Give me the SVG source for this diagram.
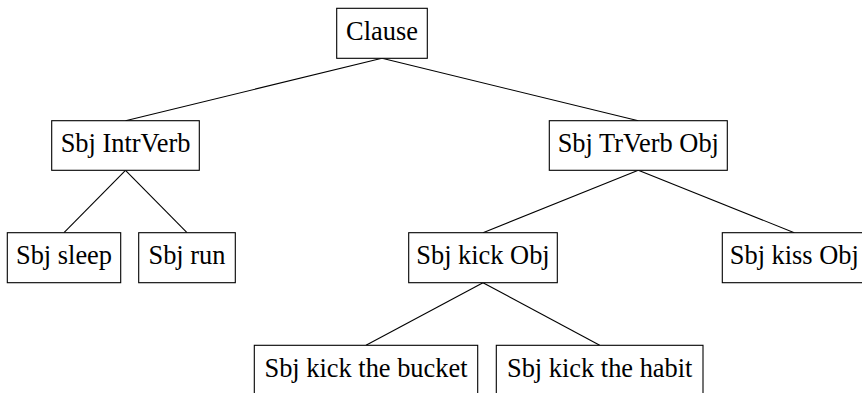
<svg xmlns="http://www.w3.org/2000/svg" width="862" height="393" viewBox="0 0 862 393">
<style>
rect.n{fill:#fff;stroke:#000;stroke-width:1.1}
text{font-family:"Liberation Serif","DejaVu Serif",serif;font-size:26.4px;fill:#000;text-anchor:middle}
#edges line{stroke:#000;stroke-width:1.1}
</style>
<rect width="862" height="393" fill="#fff"/>
<g id="edges">
<line x1="382" y1="58.3" x2="125.5" y2="120.7"/>
<line x1="382" y1="58.3" x2="638.3" y2="120.7"/>
<line x1="125.5" y1="170.3" x2="64" y2="232.7"/>
<line x1="125.5" y1="170.3" x2="187" y2="232.7"/>
<line x1="638.3" y1="170.3" x2="483" y2="232.7"/>
<line x1="638.3" y1="170.3" x2="794.3" y2="232.7"/>
<line x1="483" y1="282.7" x2="366" y2="345.3"/>
<line x1="483" y1="282.7" x2="599.7" y2="345.3"/>
</g>
<g id="clause"><rect class="n" x="336.7" y="8.3" width="90.6" height="50"/><text x="382" y="40">Clause</text></g>
<g id="intrverb"><rect class="n" x="51.7" y="120.7" width="147.6" height="49.6"/><text x="125.5" y="152.4">Sbj IntrVerb</text></g>
<g id="trverb"><rect class="n" x="549.3" y="120.7" width="178" height="49.6"/><text x="638.3" y="152.4">Sbj TrVerb Obj</text></g>
<g id="sleep"><rect class="n" x="7.3" y="232.7" width="113.4" height="50"/><text x="64" y="264.4">Sbj sleep</text></g>
<g id="run"><rect class="n" x="138.7" y="232.7" width="96.6" height="50"/><text x="187" y="264.4">Sbj run</text></g>
<g id="kick"><rect class="n" x="408.7" y="232.7" width="148.6" height="50"/><text x="483" y="264.4">Sbj kick Obj</text></g>
<g id="kiss"><rect class="n" x="722.3" y="232.7" width="144" height="50"/><text x="794.3" y="264.4">Sbj kiss Obj</text></g>
<g id="bucket"><rect class="n" x="254.3" y="345.3" width="223.4" height="50"/><text x="366" y="376.5">Sbj kick the bucket</text></g>
<g id="habit"><rect class="n" x="496.3" y="345.3" width="206.7" height="50"/><text x="599.7" y="376.5">Sbj kick the habit</text></g>
</svg>
